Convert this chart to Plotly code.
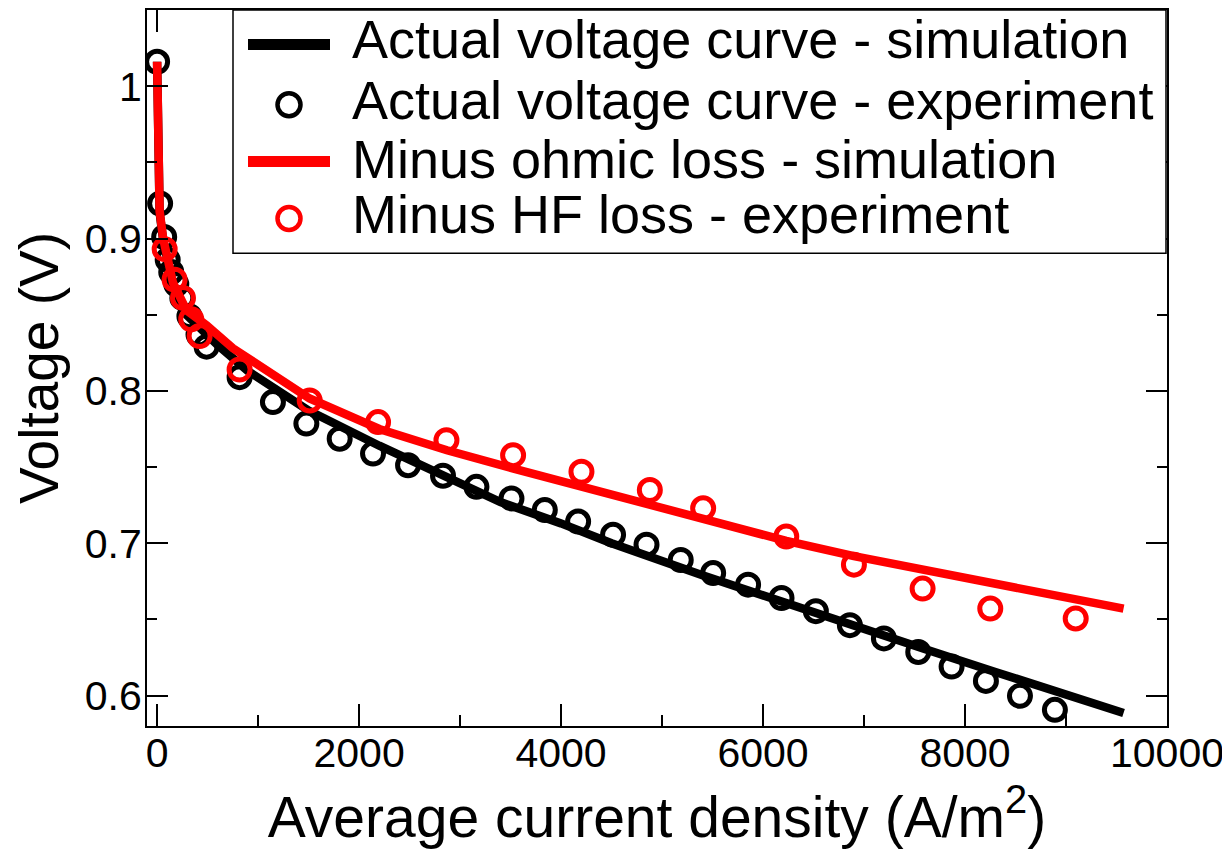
import plotly.graph_objects as go

# ---------------- data ----------------
sim_black_x = [0, 8, 25, 60, 157, 290, 450, 600, 900, 1500, 2200, 2800, 3400, 4000, 4500,
               5400, 6200, 7000, 7600, 8300, 9000, 9570]
sim_black_v = [1.016, 0.950, 0.917, 0.899, 0.869, 0.850, 0.839, 0.830, 0.813, 0.787, 0.764,
               0.745, 0.727, 0.713, 0.700, 0.679, 0.661, 0.6433, 0.6305, 0.6155, 0.601, 0.5885]

exp_black_x = [0, 30, 70, 105, 140, 190, 250, 320, 410, 490, 817, 1147, 1478, 1808, 2138,
               2485, 2831, 3162, 3509, 3839, 4169, 4515, 4846, 5185, 5506, 5852, 6183, 6523,
               6860, 7197, 7537, 7867, 8207, 8544, 8890]
exp_black_v = [1.016, 0.923, 0.901, 0.886, 0.878, 0.870, 0.861, 0.849, 0.837, 0.829, 0.809,
               0.7926, 0.7785, 0.7686, 0.7588, 0.7512, 0.7443, 0.737, 0.7294, 0.7218, 0.7142,
               0.7055, 0.699, 0.689, 0.6804, 0.6728, 0.664, 0.6554, 0.6462, 0.6375, 0.6286,
               0.619, 0.6096, 0.5998, 0.5906]

sim_red_x = [0, 8, 25, 60, 157, 290, 490, 750, 1080, 1510, 2200, 2870, 3530, 4200, 4880,
             5400, 6230, 6900, 7580, 8250, 9100, 9570]
sim_red_v = [1.016, 0.950, 0.918, 0.900, 0.871, 0.853, 0.843, 0.828, 0.814, 0.795, 0.775,
             0.761, 0.749, 0.737, 0.7255, 0.716, 0.7015, 0.6915, 0.6825, 0.674, 0.663, 0.657]

exp_red_x = [75, 173, 256, 338, 421, 817, 1511, 2188, 2865, 3525, 4202, 4879, 5407, 6230,
             6900, 7580, 8250, 9096]
exp_red_v = [0.893, 0.873, 0.861, 0.847, 0.836, 0.814, 0.7937, 0.7795, 0.7676, 0.7578,
             0.7469, 0.7349, 0.7229, 0.7044, 0.6859, 0.6702, 0.6571, 0.6506]

legend_labels = ["Actual voltage curve - simulation",
                 "Actual voltage curve - experiment",
                 "Minus ohmic loss - simulation",
                 "Minus HF loss - experiment"]

x_tickvals = [0, 2000, 4000, 6000, 8000, 10000]
x_ticktext = ["0", "2000", "4000", "6000", "8000", "10000"]
y_tickvals = [0.6, 0.7, 0.8, 0.9, 1.0]
y_ticktext = ["0.6", "0.7", "0.8", "0.9", "1"]

x_title = "Average current density (A/m<sup>2</sup>)"
y_title = "Voltage (V)"

# ---------------- layout geometry (screen pixels; page body has an 8px margin) ----------------
OFF = 8
W, H = 1230 - OFF, 851 - OFF
L, R, T, B = 147, 1167, 8, 726          # plot frame in screen pixels
FONT = "Liberation Sans, Arial, Helvetica, sans-serif"


def px2x(px):
    return (px - L) / (R - L)


def px2y(py):
    return (B - py) / (B - T)


fig = go.Figure()
fig.add_trace(go.Scatter(x=sim_black_x, y=sim_black_v, mode="lines",
                         line=dict(color="black", width=8.5),
                         name=legend_labels[0], showlegend=False))
fig.add_trace(go.Scatter(x=exp_black_x, y=exp_black_v, mode="markers",
                         marker=dict(symbol="circle-open", size=21, color="black",
                                     line=dict(width=5, color="black")),
                         name=legend_labels[1], showlegend=False))
fig.add_trace(go.Scatter(x=sim_red_x, y=sim_red_v, mode="lines",
                         line=dict(color="red", width=8.5),
                         name=legend_labels[2], showlegend=False))
fig.add_trace(go.Scatter(x=exp_red_x, y=exp_red_v, mode="markers",
                         marker=dict(symbol="circle-open", size=21, color="red",
                                     line=dict(width=5, color="red")),
                         name=legend_labels[3], showlegend=False))

axis_common = dict(showline=True, linecolor="black", linewidth=2, mirror="allticks",
                   ticks="inside", tickcolor="black", tickwidth=2, showgrid=False,
                   zeroline=False, tickfont=dict(family=FONT, size=41, color="black"))

fig.update_xaxes(range=[-100, 10000], tickvals=x_tickvals, ticktext=x_ticktext, ticklen=22,
                 ticklabelstandoff=-10,
                 minor=dict(dtick=1000, tick0=0, ticklen=11, ticks="inside",
                            tickcolor="black", tickwidth=2),
                 title=dict(text=x_title, font=dict(family=FONT, size=57, color="black"),
                            standoff=22),
                 **axis_common)
fig.update_yaxes(range=[0.58, 1.05], tickvals=y_tickvals, ticktext=y_ticktext, ticklen=21,
                 ticklabelstandoff=-5,
                 minor=dict(dtick=0.05, tick0=0.6, ticklen=10, ticks="inside",
                            tickcolor="black", tickwidth=2),
                 title=dict(text=y_title, font=dict(family=FONT, size=55, color="black"),
                            standoff=16),
                 **axis_common)

# ---------------- legend box drawn to the reference's placement ----------------
shapes = [dict(type="rect", xref="paper", yref="paper",
               x0=px2x(233), x1=px2x(1166), y0=px2y(252), y1=px2y(T),
               line=dict(color="black", width=1.5), fillcolor="white", layer="above")]
annotations = []
sym_y = [42.5, 103, 160, 217]
text_y = [37.5, 98, 157.5, 213]
styles = [("line", "black"), ("circle", "black"), ("line", "red"), ("circle", "red")]
for (kind, col), sy, ty, lab in zip(styles, sym_y, text_y, legend_labels):
    if kind == "line":
        shapes.append(dict(type="line", xref="paper", yref="paper",
                           x0=px2x(248), x1=px2x(330), y0=px2y(sy), y1=px2y(sy),
                           line=dict(color=col, width=11), layer="above"))
    else:
        shapes.append(dict(type="circle", xref="paper", yref="paper",
                           xsizemode="pixel", ysizemode="pixel",
                           xanchor=px2x(289), yanchor=px2y(sy),
                           x0=-11.5, x1=11.5, y0=-11.5, y1=11.5,
                           line=dict(color=col, width=4.5), layer="above"))
    annotations.append(dict(xref="paper", yref="paper", x=px2x(350), y=px2y(ty),
                            xanchor="left", yanchor="middle", showarrow=False,
                            text=lab, font=dict(family=FONT, size=54, color="black")))

fig.update_layout(width=W, height=H,
                  margin=dict(l=L - OFF, r=W - (R - OFF), t=T - OFF, b=H - (B - OFF), pad=0),
                  plot_bgcolor="white", paper_bgcolor="white",
                  showlegend=False, shapes=shapes, annotations=annotations,
                  font=dict(family=FONT, color="black"))

fig.write_html("out.html")
